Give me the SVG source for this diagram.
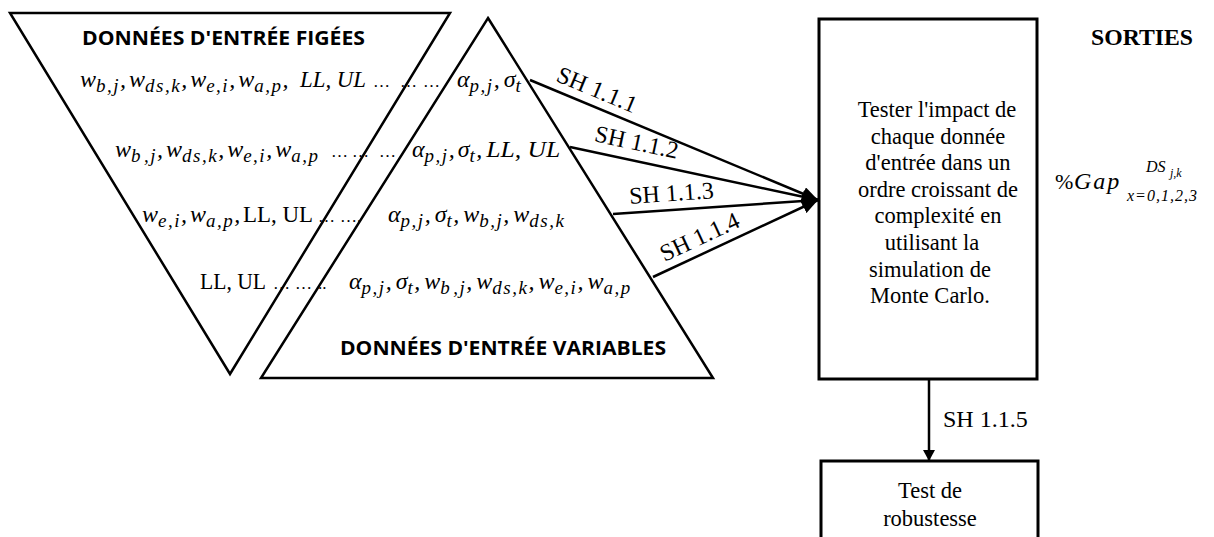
<svg xmlns="http://www.w3.org/2000/svg" width="1214" height="537" viewBox="0 0 1214 537">
<defs>
<style>
.ln{fill:none;stroke:#000;stroke-width:2.5;stroke-linejoin:miter}
.bx{fill:#fff;stroke:#000;stroke-width:3}
.hd{font-family:"Open Sans","Liberation Sans",sans-serif;font-weight:700;font-size:20px;fill:#000}
.tm{font-family:"Liberation Serif","Times New Roman",serif;font-size:22.5px;fill:#000}
.sh{font-family:"Liberation Serif","Times New Roman",serif;font-size:24px;fill:#000}
.mi{font-family:"Liberation Serif","Times New Roman",serif;font-style:italic;font-size:24px;fill:#000}
.mr{font-family:"Liberation Serif","Times New Roman",serif;font-style:normal;font-size:23px;fill:#000}
.sb{font-family:"Liberation Serif","Times New Roman",serif;font-style:italic;font-size:19px;letter-spacing:1.5px;fill:#000}
.dt{font-family:"Liberation Serif","Times New Roman",serif;font-style:normal;font-size:17px;fill:#000}
</style>
<marker id="ah" markerUnits="userSpaceOnUse" markerWidth="18" markerHeight="14" refX="16" refY="7" orient="auto">
<path d="M0,0 L16,7 L0,14 z" fill="#000"/>
</marker>
<marker id="ahs" markerUnits="userSpaceOnUse" markerWidth="14" markerHeight="12" refX="11" refY="6" orient="auto">
<path d="M0,0 L11,6 L0,12 z" fill="#000"/>
</marker>
</defs>

<g id="donnees-figees">
<polygon class="ln" points="10,13 450,13 230,374"/>
<text class="hd" x="82" y="45" textLength="283" lengthAdjust="spacingAndGlyphs">DONNÉES D'ENTRÉE FIGÉES</text>
</g>

<g id="donnees-variables">
<polygon class="ln" points="488,18 713,378 261,378"/>
<text class="hd" x="340" y="355" textLength="326" lengthAdjust="spacingAndGlyphs">DONNÉES D'ENTRÉE VARIABLES</text>
</g>

<g id="formules">
<text class="mi"><tspan x="80" y="87">w</tspan><tspan class="sb" y="92">b,j</tspan><tspan y="87">,</tspan><tspan dx="3" y="87">w</tspan><tspan class="sb" y="92">ds,k</tspan><tspan y="87">,</tspan><tspan dx="3" y="87">w</tspan><tspan class="sb" y="92">e,i</tspan><tspan y="87">,</tspan><tspan dx="3" y="87">w</tspan><tspan class="sb" y="92">a,p</tspan><tspan y="87">,</tspan><tspan x="300" y="87" textLength="66" lengthAdjust="spacingAndGlyphs">LL, UL</tspan><tspan class="dt" x="373" y="87">…</tspan><tspan class="dt" x="400" y="87">…</tspan><tspan class="dt" x="423" y="87">…</tspan><tspan x="457" y="87">α</tspan><tspan class="sb" y="92">p,j</tspan><tspan y="87">,</tspan><tspan dx="4" y="87">σ</tspan><tspan class="sb" y="92">t</tspan></text>

<text class="mi"><tspan x="115" y="157">w</tspan><tspan class="sb" y="162">b</tspan><tspan class="sb" dx="2" y="162">,j</tspan><tspan y="157">,</tspan><tspan dx="3" y="157">w</tspan><tspan class="sb" y="162">ds,k</tspan><tspan y="157">,</tspan><tspan dx="3" y="157">w</tspan><tspan class="sb" y="162">e,i</tspan><tspan y="157">,</tspan><tspan dx="3" y="157">w</tspan><tspan class="sb" y="162">a,p</tspan><tspan class="dt" x="331" y="157">…</tspan><tspan class="dt" x="352" y="157">…</tspan><tspan class="dt" x="379" y="157">…</tspan><tspan x="412" y="157">α</tspan><tspan class="sb" y="162">p,j</tspan><tspan y="157">,</tspan><tspan dx="3" y="157">σ</tspan><tspan class="sb" y="162">t</tspan><tspan y="157">,</tspan><tspan dx="4" y="157" textLength="74" lengthAdjust="spacingAndGlyphs">LL, UL</tspan></text>

<text class="mi"><tspan x="142" y="222">w</tspan><tspan class="sb" y="227">e,i</tspan><tspan y="222">,</tspan><tspan dx="3" y="222">w</tspan><tspan class="sb" y="227">a,p</tspan><tspan y="222">,</tspan><tspan class="mr" x="243" y="222" textLength="70" lengthAdjust="spacingAndGlyphs">LL, UL</tspan><tspan class="dt" x="318" y="222">…</tspan><tspan class="dt" x="340" y="222">….</tspan><tspan x="388" y="222">α</tspan><tspan class="sb" y="227">p,j</tspan><tspan y="222">,</tspan><tspan dx="4" y="222">σ</tspan><tspan class="sb" y="227">t</tspan><tspan y="222">,</tspan><tspan dx="4" y="222">w</tspan><tspan class="sb" y="227">b,j</tspan><tspan y="222">,</tspan><tspan dx="4" y="222">w</tspan><tspan class="sb" y="227">ds,k</tspan></text>

<text class="mi"><tspan class="mr" x="200" y="289" textLength="66" lengthAdjust="spacingAndGlyphs">LL, UL</tspan><tspan class="dt" x="273" y="289">…</tspan><tspan class="dt" x="295" y="289">…</tspan><tspan class="dt" x="318" y="289">..</tspan><tspan x="349" y="289">α</tspan><tspan class="sb" y="294">p,j</tspan><tspan y="289">,</tspan><tspan dx="4" y="289">σ</tspan><tspan class="sb" y="294">t</tspan><tspan y="289">,</tspan><tspan dx="4" y="289">w</tspan><tspan class="sb" y="294">b</tspan><tspan class="sb" dx="2" y="294">,j</tspan><tspan y="289">,</tspan><tspan dx="4" y="289">w</tspan><tspan class="sb" y="294">ds,k</tspan><tspan y="289">,</tspan><tspan dx="4" y="289">w</tspan><tspan class="sb" y="294">e,i</tspan><tspan y="289">,</tspan><tspan dx="4" y="289">w</tspan><tspan class="sb" y="294">a,p</tspan></text>
</g>

<g id="connecteurs">
<line class="ln" x1="530" y1="80" x2="818" y2="200" marker-end="url(#ah)"/>
<line class="ln" x1="570" y1="147" x2="818" y2="200" marker-end="url(#ah)"/>
<line class="ln" x1="613" y1="214" x2="818" y2="200" marker-end="url(#ah)"/>
<line class="ln" x1="653" y1="277" x2="818" y2="200" marker-end="url(#ah)"/>
<line class="ln" x1="929" y1="380" x2="929" y2="461" marker-end="url(#ahs)"/>
<text class="sh" text-anchor="middle" transform="translate(594,97) rotate(22.6)">SH 1.1.1</text>
<text class="sh" text-anchor="middle" transform="translate(635,150) rotate(12.1)">SH 1.1.2</text>
<text class="sh" text-anchor="middle" transform="translate(672,201) rotate(-3.9)">SH 1.1.3</text>
<text class="sh" text-anchor="middle" transform="translate(703,244) rotate(-25)">SH 1.1.4</text>
<text class="sh" x="943" y="427">SH 1.1.5</text>
</g>

<g id="simulation">
<rect class="bx" x="819" y="19" width="218" height="360"/>
<text class="tm" text-anchor="middle"><tspan x="937" y="117">Tester l'impact de</tspan><tspan x="938" y="144">chaque donnée</tspan><tspan x="938" y="170">d'entrée dans un</tspan><tspan x="938" y="197">ordre croissant de</tspan><tspan x="938" y="223">complexité en</tspan><tspan x="932" y="250">utilisant la</tspan><tspan x="930" y="277">simulation de</tspan><tspan x="930" y="303">Monte Carlo.</tspan></text>
</g>

<g id="robustesse">
<rect class="bx" x="821" y="461" width="217" height="100"/>
<text class="tm" text-anchor="middle"><tspan x="930" y="498">Test de</tspan><tspan x="930" y="526">robustesse</tspan></text>
</g>

<g id="sorties">
<text x="1091" y="45" font-family="Liberation Serif, serif" font-weight="700" font-size="23" textLength="102" lengthAdjust="spacingAndGlyphs">SORTIES</text>
<text font-family="Liberation Serif, serif" font-size="24"><tspan x="1055" y="189" font-size="22">%</tspan><tspan font-style="italic" letter-spacing="2" x="1074" y="189">Gap</tspan><tspan font-style="italic" font-size="16" x="1146" y="172">DS</tspan><tspan font-style="italic" font-size="12" x="1170" y="177">j,k</tspan><tspan font-style="italic" font-size="16" letter-spacing="1" x="1127" y="201">x=0,1,2,3</tspan></text>
</g>
</svg>
